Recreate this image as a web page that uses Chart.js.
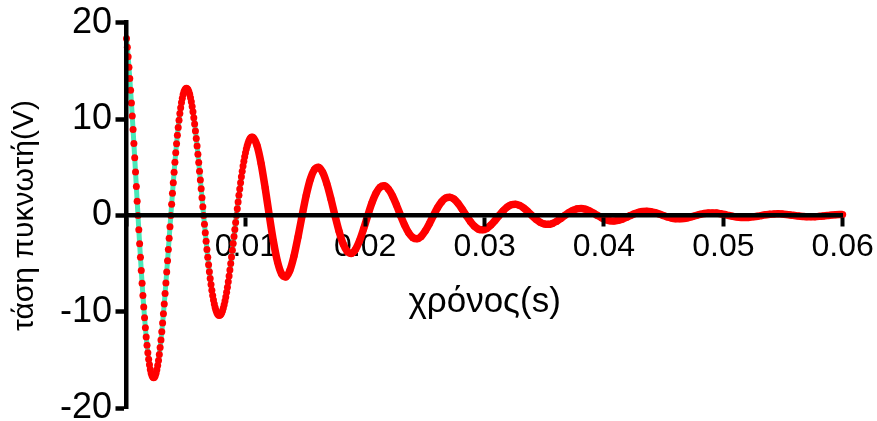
<!DOCTYPE html>
<html><head><meta charset="utf-8">
<script src="https://cdn.jsdelivr.net/npm/chart.js@4.4.1/dist/chart.umd.min.js"></script>
<style>html,body{margin:0;padding:0;background:#fff;overflow:hidden}#wrap{width:877px;height:421px}</style>
</head><body><div id="wrap"><canvas id="c" width="877" height="421"></canvas></div>
<script>
// time (s)
const time = [
0,0.0000688,0.0001375,0.0002063,0.000275,0.0003438,0.0004125,0.0004813,0.00055,0.0006188,
0.0006875,0.0007563,0.000825,0.0008938,0.0009625,0.0010313,0.0011,0.0011688,0.0012375,0.0013063,
0.001375,0.0014438,0.0015125,0.0015813,0.00165,0.0017188,0.0017875,0.0018563,0.001925,0.0019938,
0.0020625,0.0021313,0.0022,0.0022688,0.0023375,0.0024063,0.002475,0.0025438,0.0026125,0.0026813,
0.00275,0.0028188,0.0028875,0.0029563,0.003025,0.0030938,0.0031625,0.0032313,0.0033,0.0033688,
0.0034375,0.0035063,0.003575,0.0036438,0.0037125,0.0037813,0.00385,0.0039188,0.0039875,0.0040563,
0.004125,0.0041938,0.0042625,0.0043313,0.0044,0.0044688,0.0045375,0.0046063,0.004675,0.0047438,
0.0048125,0.0048813,0.00495,0.0050188,0.0050875,0.0051563,0.005225,0.0052938,0.0053625,0.0054313,
0.0055,0.0055688,0.0056375,0.0057063,0.005775,0.0058438,0.0059125,0.0059813,0.00605,0.0061188,
0.0061875,0.0062563,0.006325,0.0063938,0.0064625,0.0065313,0.0066,0.0066688,0.0067375,0.0068063,
0.006875,0.0069438,0.0070125,0.0070813,0.00715,0.0072188,0.0072875,0.0073563,0.007425,0.0074938,
0.0075625,0.0076313,0.0077,0.0077688,0.0078375,0.0079063,0.007975,0.0080438,0.0081125,0.0081813,
0.00825,0.0083188,0.0083875,0.0084563,0.008525,0.0085938,0.0086625,0.0087313,0.0088,0.0088688,
0.0089375,0.0090063,0.009075,0.0091438,0.0092125,0.0092813,0.00935,0.0094188,0.0094875,0.0095563,
0.009625,0.0096938,0.0097625,0.0098313,0.0099,0.0099688,0.0100375,0.0101063,0.010175,0.0102438,
0.0103125,0.0103813,0.01045,0.0105188,
0.0105875,0.0109313,0.011275,0.0116188,0.0119625,0.0123063,0.01265,0.0129938,0.0133375,0.0136813,
0.014025,0.0143688,0.0147125,0.0150563,0.0154,0.0157438,0.0160875,0.0164313,0.016775,0.0171188,
0.0174625,0.0178063,0.01815,0.0184938,0.0188375,0.0191813,0.019525,0.0198688,0.0202125,0.0205563,
0.0209,0.0212438,0.0215875,0.0219313,0.022275,0.0226188,0.0229625,0.0233063,0.02365,0.0239938,
0.0243375,0.0246813,0.025025,0.0253688,0.0257125,0.0260563,0.0264,0.0267438,0.0270875,0.0274313,
0.027775,0.0281188,0.0284625,0.0288063,0.02915,0.0294938,0.0298375,0.0301813,0.030525,0.0308688,
0.0312125,0.0315563,0.0319,0.0322438,0.0325875,0.0329313,0.033275,0.0336188,0.0339625,0.0343063,
0.03465,0.0349938,0.0353375,0.0356813,0.036025,0.0363688,0.0367125,0.0370563,0.0374,0.0377438,
0.0380875,0.0384313,0.038775,0.0391188,0.0394625,0.0398063,0.04015,0.0404938,0.0408375,0.0411813,
0.041525,0.0418688,0.0422125,0.0425563,0.0429,0.0432438,0.0435875,0.0439313,0.044275,0.0446188,
0.0449625,0.0453063,0.04565,0.0459938,0.0463375,0.0466813,0.047025,0.0473688,0.0477125,0.0480563,
0.0484,0.0487438,0.0490875,0.0494313,0.049775,0.0501188,0.0504625,0.0508063,0.05115,0.0514938,
0.0518375,0.0521813,0.052525,0.0528688,0.0532125,0.0535563,0.0539,0.0542438,0.0545875,0.0549313,
0.055275,0.0556188,0.0559625,0.0563063,0.05665,0.0569938,0.0573375,0.0576813,0.058025,0.0583688,
0.0587125,0.0590563,0.0594,0.0597438,0.06
];
// capacitor voltage (V)
const voltage = [
18.35,17.46,16.47,15.38,14.22,12.98,11.68,10.32,8.91,7.47,
5.99,4.50,3.00,1.49,0,-1.48,-2.93,-4.34,-5.71,-7.03,
-8.29,-9.48,-10.60,-11.64,-12.60,-13.46,-14.24,-14.92,-15.49,-15.97,
-16.34,-16.60,-16.76,-16.82,-16.77,-16.62,-16.36,-16.01,-15.57,-15.03,
-14.41,-13.70,-12.92,-12.07,-11.16,-10.19,-9.17,-8.10,-6.99,-5.86,
-4.70,-3.53,-2.35,-1.17,0,1.16,2.30,3.41,4.48,5.52,
6.50,7.44,8.32,9.14,9.89,10.57,11.18,11.71,12.16,12.54,
12.83,13.03,13.16,13.20,13.16,13.04,12.85,12.57,12.22,11.80,
11.31,10.76,10.15,9.48,8.76,8.00,7.20,6.36,5.49,4.60,
3.69,2.77,1.85,0.92,0,-0.91,-1.80,-2.67,-3.52,-4.33,
-5.11,-5.84,-6.53,-7.17,-7.76,-8.30,-8.77,-9.19,-9.55,-9.84,
-10.07,-10.23,-10.33,-10.37,-10.33,-10.24,-10.08,-9.87,-9.59,-9.26,
-8.88,-8.45,-7.96,-7.44,-6.88,-6.28,-5.65,-4.99,-4.31,-3.61,
-2.90,-2.18,-1.45,-0.72,0,0.71,1.41,2.10,2.76,3.40,
4.01,4.59,5.13,5.63,6.09,6.51,6.89,7.22,7.50,7.72,
7.90,8.03,8.11,8.14,
8.11,7.27,5.40,2.84,0,-2.67,-4.79,-6.07,-6.37,-5.71,-4.24,-2.23,0,2.10,3.76,4.76,
5.00,4.48,3.33,1.75,0,-1.64,-2.95,-3.74,-3.93,-3.52,-2.61,-1.37,0,1.29,2.31,2.93,
3.08,2.76,2.05,1.08,0,-1.01,-1.82,-2.30,-2.42,-2.17,-1.61,-0.85,0,0.80,1.43,1.81,
1.90,1.70,1.26,0.66,0,-0.62,-1.12,-1.42,-1.49,-1.34,-0.99,-0.52,0,0.49,0.88,1.11,
1.17,1.05,0.78,0.41,0,-0.39,-0.69,-0.88,-0.92,-0.82,-0.61,-0.32,0,0.30,0.54,0.69,
0.72,0.65,0.48,0.25,0,-0.24,-0.43,-0.54,-0.57,-0.51,-0.38,-0.20,0,0.19,0.33,0.42,
0.44,0.40,0.30,0.16,0,-0.15,-0.26,-0.33,-0.35,-0.31,-0.23,-0.12,0,0.12,0.21,0.26,
0.27,0.25,0.18,0.10,0,-0.09,-0.16,-0.20,-0.22,-0.19,-0.14,-0.08,0,0.07,0.13,0.16,
0.17,0.15,0.11,0.06,0,-0.06,-0.10,-0.13,-0.13,-0.12,-0.09,-0.05,0,0.04,0.08,0.10,
0.10
];
const xTickLabels = ['', '0.01', '0.02', '0.03', '0.04', '0.05', '0.06'];
const yTickLabels = ['-20', '-10', '0', '10', '20'];
const xTitle = 'χρόνος(s)';
const yTitle = 'τάση πυκνωτή(V)';
const solidFrom = 0.0105875; // from here on the dots merge into a solid band

const FONT = "'Liberation Sans', Arial, Helvetica, sans-serif";
const points = time.map((t, i) => ({x: t, y: voltage[i]}));

const xTitlePlacement = {
  id: 'xTitlePlacement',
  afterLayout(chart) {
    const s = chart.scales.x;
    s.height = 108;
    s.bottom = s.top + 108;
  }
};

new Chart(document.getElementById('c'), {
  type: 'line',
  data: {
    datasets: [
      {
        data: points,
        borderColor: 'red',
        borderWidth: 7.5,
        pointRadius: 3.5,
        pointBorderWidth: 0,
        pointBackgroundColor: 'red',
        cubicInterpolationMode: 'monotone',
        clip: false,
        segment: {
          borderColor: ctx => ctx.p0.parsed.x >= solidFrom ? 'red' : 'rgba(0,0,0,0)'
        }
      },
      {
        data: points,
        borderColor: '#48e8b8',
        borderWidth: 5,
        pointRadius: 0,
        cubicInterpolationMode: 'monotone',
        clip: false
      }
    ]
  },
  options: {
    responsive: false,
    animation: false,
    events: [],
    layout: { padding: { left: 0, right: 34.3, top: 22.7, bottom: 12.7 } },
    plugins: { legend: { display: false }, tooltip: { enabled: false }, title: { display: false } },
    scales: {
      x: {
        type: 'linear',
        position: { y: 0 },
        min: 0, max: 0.06,
        ticks: {
          stepSize: 0.01, maxRotation: 0, autoSkip: false,
          color: '#000', padding: 3,
          font: { family: FONT, size: 32 },
          callback: (v, i) => xTickLabels[i]
        },
        grid: { display: true, drawOnChartArea: false, drawTicks: true, tickLength: 9, tickWidth: 4, tickColor: '#000', z: 1 },
        border: { display: true, color: '#000', width: 4.5, z: 1 },
        title: { display: true, text: xTitle, color: '#000', font: { family: FONT, size: 35 }, padding: 0 },
        afterFit: s => { s.height = 0; s.paddingLeft = 0; s.paddingRight = 0; }
      },
      y: {
        type: 'linear',
        position: 'left',
        min: -20, max: 20,
        ticks: {
          stepSize: 10, color: '#000', padding: 3.5,
          font: { family: FONT, size: 36 },
          callback: (v, i) => yTickLabels[i]
        },
        grid: { display: true, drawOnChartArea: false, drawTicks: true, tickLength: 11, tickWidth: 4.5, tickColor: '#000', z: 1 },
        border: { display: true, color: '#000', width: 4.5, z: 1 },
        title: { display: true, text: yTitle, color: '#000', font: { family: FONT, size: 30 }, padding: { top: 7, bottom: 0 } },
        afterFit: s => { s.width = 126.5; s.paddingTop = 0; s.paddingBottom = 0; }
      }
    }
  },
  plugins: [xTitlePlacement]
});
</script>
</body></html>
